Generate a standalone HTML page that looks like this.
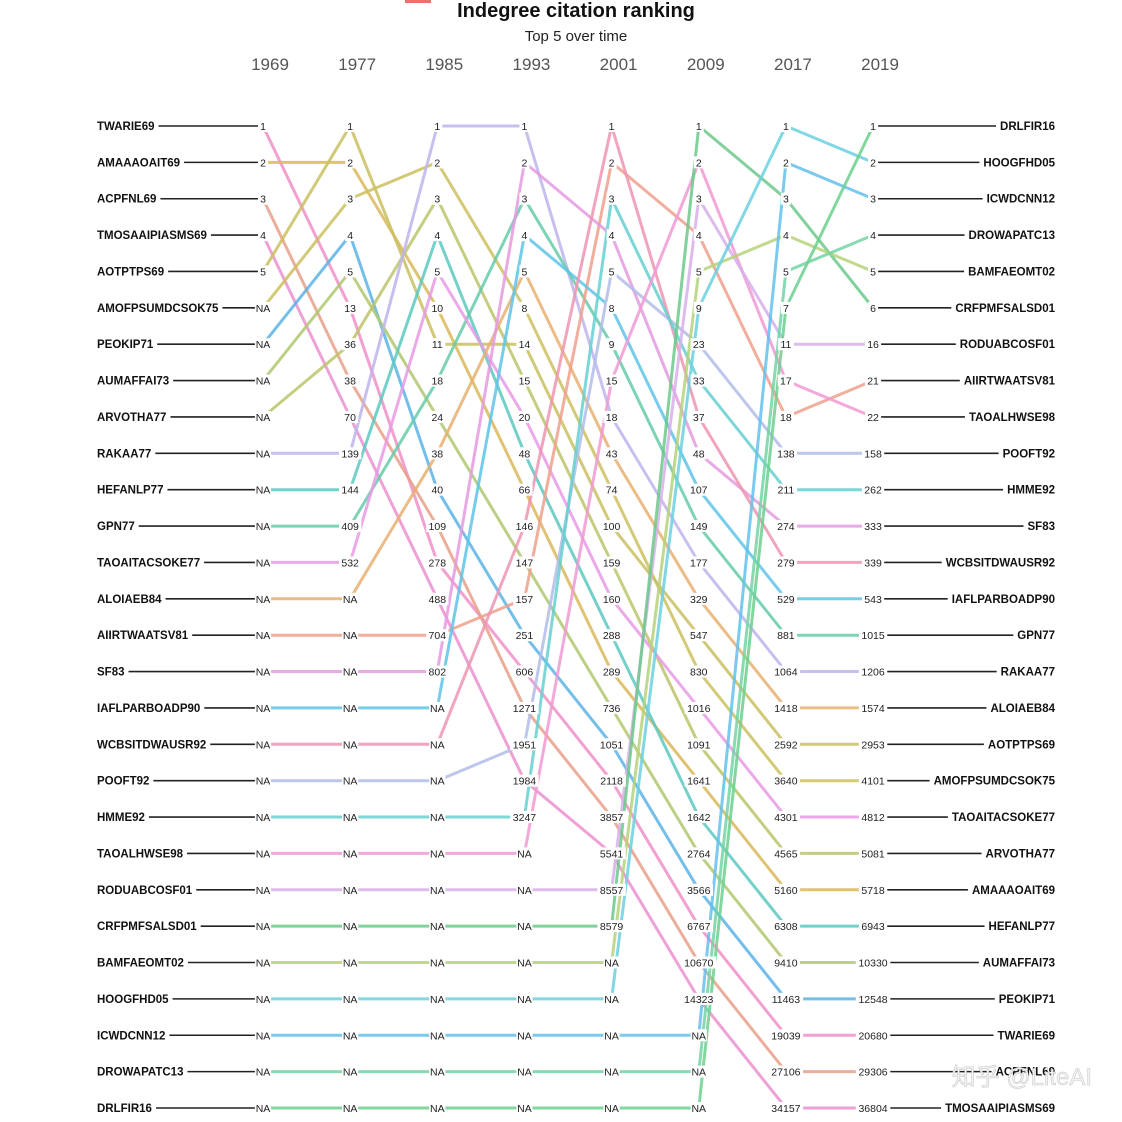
<!DOCTYPE html>
<html><head><meta charset="utf-8">
<style>
html,body{margin:0;padding:0;background:#fff;}
svg{display:block;font-family:"Liberation Sans","Noto Sans CJK SC",sans-serif;}
</style></head>
<body>
<svg id="chart" width="1122" height="1122" viewBox="0 0 1122 1122" xmlns="http://www.w3.org/2000/svg">
<rect x="405" y="0" width="26" height="3" fill="#e8716c"/>
<text x="576" y="17" text-anchor="middle" font-size="20" font-weight="bold" fill="#111">Indegree citation ranking</text>
<text x="576" y="41" text-anchor="middle" font-size="15" fill="#222">Top 5 over time</text>
<g id="lines"></g>
<g id="labels"></g>
<text x="1092" y="1085" text-anchor="end" font-size="24" fill="#f2f2f2" stroke="#c4c4c4" stroke-width="0.5">知乎 @LiteAI</text>
</svg>
<script>
const years = [1969,1977,1985,1993,2001,2009,2017,2019];
const names = ["TWARIE69","AMAAAOAIT69","ACPFNL69","TMOSAAIPIASMS69","AOTPTPS69","AMOFPSUMDCSOK75","PEOKIP71","AUMAFFAI73","ARVOTHA77","RAKAA77","HEFANLP77","GPN77","TAOAITACSOKE77","ALOIAEB84","AIIRTWAATSV81","SF83","IAFLPARBOADP90","WCBSITDWAUSR92","POOFT92","HMME92","TAOALHWSE98","RODUABCOSF01","CRFPMFSALSD01","BAMFAEOMT02","HOOGFHD05","ICWDCNN12","DROWAPATC13","DRLFIR16"];
const colors = ["#ee8fc8","#d9b85a","#e8a08a","#ea90d0","#c9c060","#cdbf5e","#5ab4e6","#b0c870","#bcc46a","#c0b4ec","#5cc9c0","#66cbaa","#e79ae6","#e8b070","#eea08c","#e49ae0","#5ec4e8","#ef95b0","#b2bce8","#66cfd0","#f09ad4","#d7b0ea","#6cc88a","#b6d27a","#6cd0e0","#64c0ec","#74d2a4","#6cd08e"];
const N = null;
const v1969 = [1,2,3,4,5,N,N,N,N,N,N,N,N,N,N,N,N,N,N,N,N,N,N,N,N,N,N,N];
const v1977 = [13,2,38,70,1,3,4,5,36,139,144,409,532,N,N,N,N,N,N,N,N,N,N,N,N,N,N,N];
const v1985 = [278,10,109,488,11,2,40,24,3,1,4,18,5,38,704,802,N,N,N,N,N,N,N,N,N,N,N,N];
const v1993 = [606,66,1271,1984,14,8,251,147,15,1,48,3,20,5,157,2,4,146,1951,3247,N,N,N,N,N,N,N,N];
const v2001 = [2118,289,3857,5541,100,74,1051,736,159,18,288,9,160,43,2,4,8,1,5,3,15,8557,8579,N,N,N,N,N];
const v2009 = [6767,1641,10670,14323,547,830,3566,2764,1091,177,1642,149,1016,329,4,48,107,37,23,33,2,3,1,5,9,N,N,N];
const v2017 = [19039,5160,27106,34157,2592,3640,11463,9410,4565,1064,6308,881,4301,1418,18,274,529,279,138,211,17,11,3,4,1,2,5,7];
const v2019 = [20680,5718,29306,36804,2953,4101,12548,10330,5081,1206,6943,1015,4812,1574,21,333,543,339,158,262,22,16,6,5,2,3,4,1];
const values = [v1969,v1977,v1985,v1993,v2001,v2009,v2017,v2019];

const NS = "http://www.w3.org/2000/svg";
const xCol = k => 263 + k*87.15;
const yRow = r => 126 + r*36.37;
function mk(tag, attrs){const e=document.createElementNS(NS,tag);for(const a in attrs)e.setAttribute(a,attrs[a]);return e;}

const rows = values.map(vals=>{
  const idx = names.map((_,i)=>i);
  idx.sort((a,b)=>{
    const va=vals[a], vb=vals[b];
    if(va===null && vb===null) return a-b;
    if(va===null) return 1;
    if(vb===null) return -1;
    return va-vb;
  });
  const r = new Array(names.length);
  idx.forEach((e,pos)=>r[e]=pos);
  return r;
});

const gL = document.getElementById('lines');
const gT = document.getElementById('labels');
const svg = document.getElementById('chart');

years.forEach((yr,k)=>{
  const t = mk('text',{x:xCol(k)+7,y:70,'text-anchor':'middle','font-size':17,fill:'#555'});
  
  
  t.textContent = yr;
  svg.appendChild(t);
});

names.forEach((nm,i)=>{
  const yl = yRow(rows[0][i]);
  const tl = mk('text',{x:97,y:yl+4,'text-anchor':'start','font-size':11.5,'font-weight':'bold',fill:'#111'});
  
  
  tl.textContent = nm;
  gT.appendChild(tl);
  const wl = tl.getComputedTextLength();
  const l1 = mk('line',{x1:97+wl+4,y1:yl,x2:xCol(0),y2:yl,stroke:'#222','stroke-width':1.6});
  
  
  gL.appendChild(l1);

  const yr = yRow(rows[7][i]);
  const tr = mk('text',{x:1055,y:yr+4,'text-anchor':'end','font-size':11.5,'font-weight':'bold',fill:'#111'});
  
  
  tr.textContent = nm;
  gT.appendChild(tr);
  const wr = tr.getComputedTextLength();
  const l2 = mk('line',{x1:xCol(7),y1:yr,x2:1055-wr-4,y2:yr,stroke:'#222','stroke-width':1.6});
  
  
  gL.appendChild(l2);
});

names.forEach((nm,i)=>{
  const pts = years.map((_,k)=>xCol(k).toFixed(1)+','+yRow(rows[k][i]).toFixed(1)).join(' ');
  const p = mk('polyline',{points:pts,fill:'none',stroke:colors[i],'stroke-width':3,'stroke-opacity':0.85,'stroke-linejoin':'round'});
  
  
  gL.appendChild(p);
});

values.forEach((vals,k)=>{
  names.forEach((nm,i)=>{
    const txt = vals[i]===null ? 'NA' : String(vals[i]);
    const y = yRow(rows[k][i]);
    const w = txt.length*6.1+4;
    const bg = mk('rect',{x:xCol(k)-w/2,y:y-6,width:w,height:12,fill:'#fff'});
    
    
    gT.appendChild(bg);
    const t = mk('text',{x:xCol(k),y:y+4,'text-anchor':'middle','font-size':10.5,fill:'#222'});
    
    
    t.textContent = txt;
    gT.appendChild(t);
  });
});
</script>
</body></html>
